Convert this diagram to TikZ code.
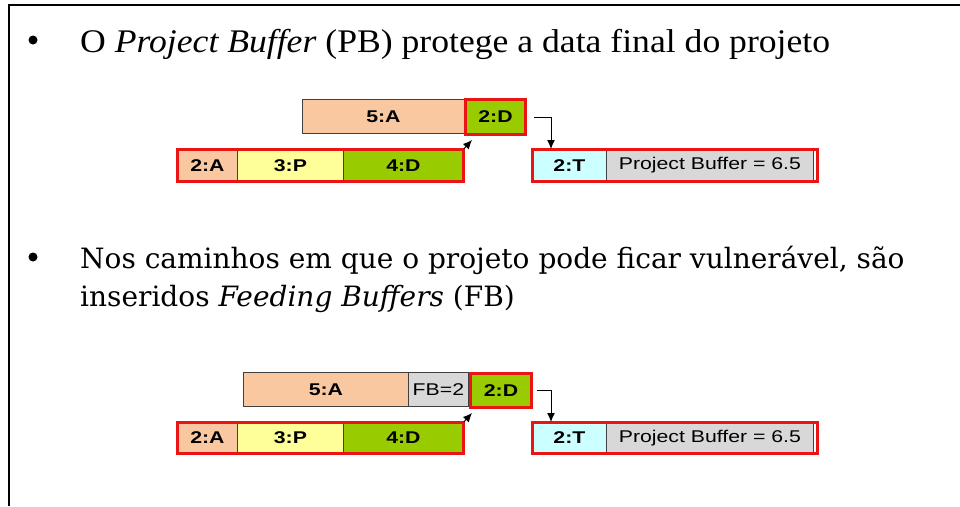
\documentclass[tikz,border=0pt]{standalone}
\usepackage{fontspec}
\setmainfont{Liberation Serif}[FakeStretch=1.08]
\newfontfamily\arialf{Liberation Sans}[FakeStretch=1.25]
\newfontfamily\schf{DejaVu Serif}
\usetikzlibrary{calc,arrows.meta}
\definecolor{peach}{RGB}{250,200,160}
\definecolor{lyellow}{RGB}{255,255,153}
\definecolor{lgreen}{RGB}{153,204,0}
\definecolor{lcyan}{RGB}{204,255,255}
\definecolor{lgray}{RGB}{216,216,216}
\definecolor{fred}{RGB}{235,20,20}
\tikzset{
  cell/.style={draw=black!75, line width=0.8pt, inner sep=0pt, anchor=north west,
    font=\arialf\bfseries\fontsize{17}{17}\selectfont},
  plain/.style={font=\arialf\fontsize{17}{17}\selectfont},
  redframe/.style={draw=fred, line width=3pt},
  conn/.style={line width=1pt, -{Latex[length=9pt,width=8pt]}},
  bul/.style={circle, fill=black, inner sep=0pt, minimum size=9pt},
}
\begin{document}
\begin{tikzpicture}[x=1pt,y=-1pt]
\useasboundingbox (0,0) rectangle (960,506);
\fill[white] (0,0) rectangle (960,506);
\draw[line width=1.6pt] (960,5) -- (9,5) -- (9,506);

% texts
\node[bul] (b1) at (33,40) {};
\node[anchor=base west, inner sep=0pt, font=\fontsize{33}{33}\selectfont] (t1) at (80,52)
  {O \textit{Project Buffer} (PB) protege a data final do projeto};
\node[bul] (b2) at (33,257) {};
\node[anchor=base west, inner sep=0pt, font=\schf\fontsize{28}{28}\selectfont] (t2l) at (80,268)
  {Nos caminhos em que o projeto pode ficar vulnerável, são};
\node[anchor=base west, inner sep=0pt, font=\schf\fontsize{28}{28}\selectfont] (t3l) at (80,306)
  {inseridos \textit{Feeding Buffers} (FB)};

% top diagram
\node[cell, fill=peach, minimum width=162pt, minimum height=34pt] (a5) at (302,99) {5:A};
\node[cell, fill=lgreen, redframe, minimum width=60pt, minimum height=35pt] (d2) at (464,98) {2:D};
\node[cell, fill=peach, minimum width=60pt, minimum height=32pt] (a2) at (177,149) {2:A};
\node[cell, fill=lyellow, minimum width=106pt, minimum height=32pt] (p3) at (237,149) {3:P};
\node[cell, fill=lgreen, minimum width=120pt, minimum height=32pt] (d4) at (343,149) {4:D};
\draw[redframe] (a2.north west) rectangle (d4.south east);
\node[cell, fill=lcyan, minimum width=74pt, minimum height=32pt] (tt) at (532,149) {2:T};
\node[cell, plain, fill=lgray, minimum width=207pt, minimum height=32pt] (pb) at (606,149) {Project Buffer = 6.5};
\draw[redframe] (tt.north west) rectangle ($(pb.south east)+(4,0)$);
\draw[conn] (d4.north east) -- ($(d2.south west)+(8,4)$);
\draw[conn] ($(d2.east)+(7,0)$) -| ($(tt.north west)+(19,0)$);

% bottom diagram
\node[cell, fill=peach, minimum width=165pt, minimum height=34pt] (a5b) at (243,372) {5:A};
\node[cell, plain, fill=lgray, minimum width=60pt, minimum height=34pt] (fb) at (408,372) {FB=2};
\node[cell, fill=lgreen, redframe, minimum width=61pt, minimum height=34pt] (d2b) at (469,372) {2:D};
\node[cell, fill=peach, minimum width=60pt, minimum height=31pt] (a2b) at (177,422) {2:A};
\node[cell, fill=lyellow, minimum width=106pt, minimum height=31pt] (p3b) at (237,422) {3:P};
\node[cell, fill=lgreen, minimum width=120pt, minimum height=31pt] (d4b) at (343,422) {4:D};
\draw[redframe] (a2b.north west) rectangle (d4b.south east);
\node[cell, fill=lcyan, minimum width=74pt, minimum height=31pt] (ttb) at (532,422) {2:T};
\node[cell, plain, fill=lgray, minimum width=207pt, minimum height=31pt] (pbb) at (606,422) {Project Buffer = 6.5};
\draw[redframe] (ttb.north west) rectangle ($(pbb.south east)+(4,0)$);
\draw[conn] (d4b.north east) -- ($(d2b.south west)+(3,4)$);
\draw[conn] ($(d2b.east)+(4,0)$) -| ($(ttb.north west)+(19,0)$);
\end{tikzpicture}
\end{document}
